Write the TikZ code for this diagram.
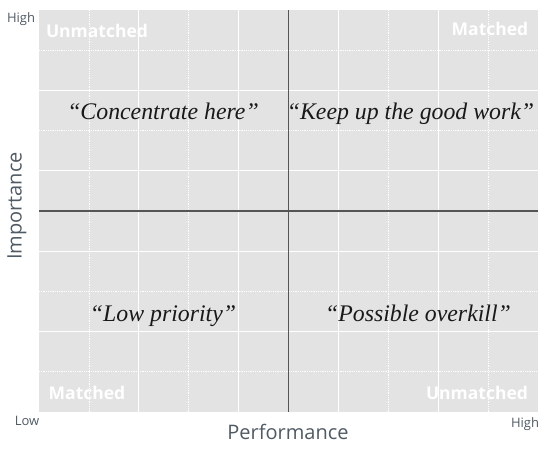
\documentclass[tikz,border=0pt]{standalone}
\usepackage{fontspec}
\setmainfont{Liberation Serif}
\newfontfamily\uifont{Open Sans}
\usepackage{xcolor}
\definecolor{panelgray}{RGB}{227,227,227}
\definecolor{axisgray}{RGB}{85,85,85}
\definecolor{labelgray}{RGB}{80,90,100}

\begin{document}
\begin{tikzpicture}
	[x=1pt, y=-1pt,
	 quadtext/.style={font=\fontsize{23.8}{28}\selectfont\itshape, text=black!90, anchor=base},
	 cornertext/.style={font=\uifont\bfseries\fontsize{17.5}{20}\selectfont, text=white},
	 endlabel/.style={font=\uifont\fontsize{13}{15}\selectfont, text=labelgray},
	 axislabel/.style={font=\uifont\fontsize{20}{24}\selectfont, text=labelgray}]
	\useasboundingbox (0,0) rectangle (550,449);
	\fill [panelgray] (39,10) rectangle (538,412);

	% grid
	\foreach \k in {1,...,9} {
		\pgfmathsetmacro{\gx}{39+49.9*\k}
		\pgfmathsetmacro{\gy}{10+40.2*\k}
		\ifodd\k
			\draw [white, line width=0.8pt, densely dotted] (\gx,10) -- (\gx,412);
			\draw [white, line width=0.8pt, densely dotted] (39,\gy) -- (538,\gy);
		\else
			\draw [white, line width=1pt] (\gx,10) -- (\gx,412);
			\draw [white, line width=1pt] (39,\gy) -- (538,\gy);
		\fi
	}

	% axes through the middle
	\coordinate (top) at (288.5,10);
	\coordinate (bot) at (288.5,412);
	\coordinate (lft) at (39,211);
	\coordinate (rgt) at (538,211);
	\draw [axisgray, line width=1.2pt] (top) -- (bot);
	\draw [axisgray, line width=1.2pt] (lft) -- (rgt);

	\node [cornertext] (tl) at (97,31) {Unmatched};
	\node [cornertext] (tr) at (490,29) {Matched};
	\node [cornertext] (bl) at (87,393) {Matched};
	\node [cornertext] (br) at (477,393) {Unmatched};

	\node [quadtext] (q1) at (163,120) {“Concentrate here”};
	\node [quadtext] (q2) at (410.5,120) {“Keep up the good work”};
	\node [quadtext] (q3) at (163,322) {“Low priority”};
	\node [quadtext] (q4) at (418,322) {“Possible overkill”};

	\node [endlabel] (yhigh) at (21,19) {High};
	\node [endlabel] (xlow) at (27,421) {Low};
	\node [endlabel] (xhigh) at (525,424) {High};

	\node [axislabel, rotate=90] (ylab) at (17,206) {Importance};
	\node [axislabel] (xlab) at (288,432) {Performance};
\end{tikzpicture}
\end{document}
